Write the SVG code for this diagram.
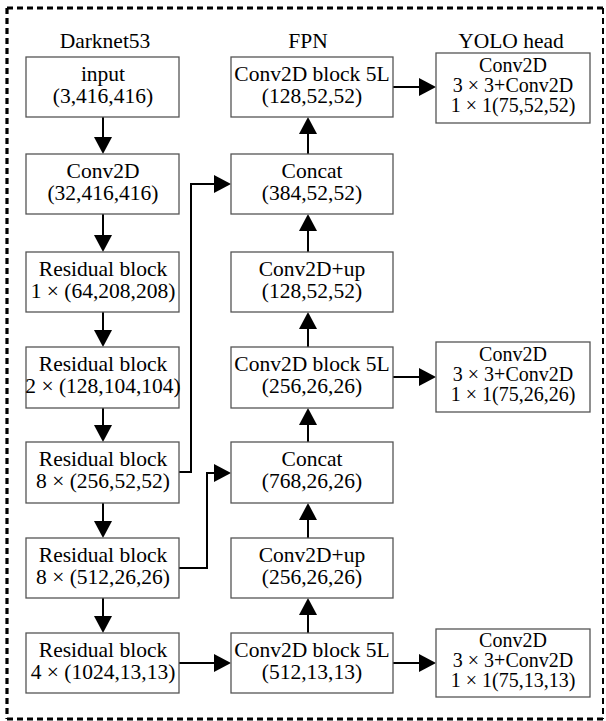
<svg xmlns="http://www.w3.org/2000/svg" width="606" height="721" viewBox="0 0 606 721">
<style>
  .box { fill: #ffffff; stroke: #555555; stroke-width: 1.3; }
  .t { font-family: 'Liberation Serif', 'DejaVu Serif', 'Times New Roman', serif; font-size: 21.5px; fill: #000000; text-anchor: middle; }
  .s { font-size: 20px; }
  .conn { fill: none; stroke: #000000; stroke-width: 2; marker-end: url(#arrow); }
  .border { stroke: #000000; stroke-width: 3.2; stroke-dasharray: 6 4; fill: none; }
</style>
<defs>
  <marker id="arrow" markerUnits="userSpaceOnUse" viewBox="0 0 17 18" markerWidth="17" markerHeight="18" refX="2" refY="9" orient="auto">
    <path d="M0,0 L17,9 L0,18 Z" fill="#000000"/>
  </marker>
</defs>
<rect width="606" height="721" fill="#ffffff"/>
<g id="frame">
  <line class="border" x1="7" y1="8" x2="604" y2="8"/>
  <line class="border" x1="7" y1="8" x2="7" y2="719"/>
  <line class="border" x1="7" y1="719" x2="604" y2="719"/>
  <line class="border" x1="603" y1="8" x2="603" y2="719" style="stroke-width:2"/>
</g>
<g id="headers">
  <text class="t" x="105" y="48">Darknet53</text>
  <text class="t" x="308" y="48">FPN</text>
  <text class="t" x="511" y="48">YOLO head</text>
</g>
<g id="connectors">
  <path class="conn" d="M103,117 V139"/>
  <path class="conn" d="M103,214 V237"/>
  <path class="conn" d="M103,312 V332"/>
  <path class="conn" d="M103,408 V427"/>
  <path class="conn" d="M103,503 V523"/>
  <path class="conn" d="M103,598 V618"/>
  <path class="conn" d="M308,154 V132"/>
  <path class="conn" d="M308,252 V229"/>
  <path class="conn" d="M308,347 V327"/>
  <path class="conn" d="M308,442 V423"/>
  <path class="conn" d="M308,538 V518"/>
  <path class="conn" d="M308,633 V613"/>
  <path class="conn" d="M393,87 H421"/>
  <path class="conn" d="M393,377 H421"/>
  <path class="conn" d="M393,663 H421"/>
  <path class="conn" d="M179,663 H216"/>
  <path class="conn" d="M179,472 H191 V184 H216"/>
  <path class="conn" d="M179,568 H207 V473 H216"/>
</g>
<g id="d1"><rect class="box" x="26" y="57" width="153" height="60"/><text class="t" x="103" y="81">input</text><text class="t" x="103" y="103">(3,416,416)</text></g>
<g id="d2"><rect class="box" x="26" y="154" width="153" height="60"/><text class="t" x="103" y="178">Conv2D</text><text class="t" x="103" y="200">(32,416,416)</text></g>
<g id="d3"><rect class="box" x="26" y="252" width="153" height="60"/><text class="t" x="103" y="276">Residual block</text><text class="t" x="103" y="298">1 × (64,208,208)</text></g>
<g id="d4"><rect class="box" x="26" y="347" width="153" height="61"/><text class="t" x="103" y="371">Residual block</text><text class="t" x="103" y="393">2 × (128,104,104)</text></g>
<g id="d5"><rect class="box" x="26" y="442" width="153" height="61"/><text class="t" x="103" y="466">Residual block</text><text class="t" x="103" y="488">8 × (256,52,52)</text></g>
<g id="d6"><rect class="box" x="26" y="538" width="153" height="60"/><text class="t" x="103" y="562">Residual block</text><text class="t" x="103" y="584">8 × (512,26,26)</text></g>
<g id="d7"><rect class="box" x="26" y="633" width="153" height="60"/><text class="t" x="103" y="657">Residual block</text><text class="t" x="103" y="679">4 × (1024,13,13)</text></g>
<g id="f1"><rect class="box" x="231" y="57" width="162" height="60"/><text class="t" x="312" y="81">Conv2D block 5L</text><text class="t" x="312" y="103">(128,52,52)</text></g>
<g id="f2"><rect class="box" x="231" y="154" width="162" height="60"/><text class="t" x="312" y="178">Concat</text><text class="t" x="312" y="200">(384,52,52)</text></g>
<g id="f3"><rect class="box" x="231" y="252" width="162" height="60"/><text class="t" x="312" y="276">Conv2D+up</text><text class="t" x="312" y="298">(128,52,52)</text></g>
<g id="f4"><rect class="box" x="231" y="347" width="162" height="61"/><text class="t" x="312" y="371">Conv2D block 5L</text><text class="t" x="312" y="393">(256,26,26)</text></g>
<g id="f5"><rect class="box" x="231" y="442" width="162" height="61"/><text class="t" x="312" y="466">Concat</text><text class="t" x="312" y="488">(768,26,26)</text></g>
<g id="f6"><rect class="box" x="231" y="538" width="162" height="60"/><text class="t" x="312" y="562">Conv2D+up</text><text class="t" x="312" y="584">(256,26,26)</text></g>
<g id="f7"><rect class="box" x="231" y="633" width="162" height="60"/><text class="t" x="312" y="657">Conv2D block 5L</text><text class="t" x="312" y="679">(512,13,13)</text></g>
<g id="y1"><rect class="box" x="436" y="53" width="154" height="70"/><text class="t s" x="513" y="72">Conv2D</text><text class="t s" x="513" y="92">3 × 3+Conv2D</text><text class="t s" x="513" y="112">1 × 1(75,52,52)</text></g>
<g id="y2"><rect class="box" x="436" y="342" width="154" height="70"/><text class="t s" x="513" y="361">Conv2D</text><text class="t s" x="513" y="381">3 × 3+Conv2D</text><text class="t s" x="513" y="401">1 × 1(75,26,26)</text></g>
<g id="y3"><rect class="box" x="436" y="629" width="154" height="68"/><text class="t s" x="513" y="647">Conv2D</text><text class="t s" x="513" y="667">3 × 3+Conv2D</text><text class="t s" x="513" y="687">1 × 1(75,13,13)</text></g>
</svg>
